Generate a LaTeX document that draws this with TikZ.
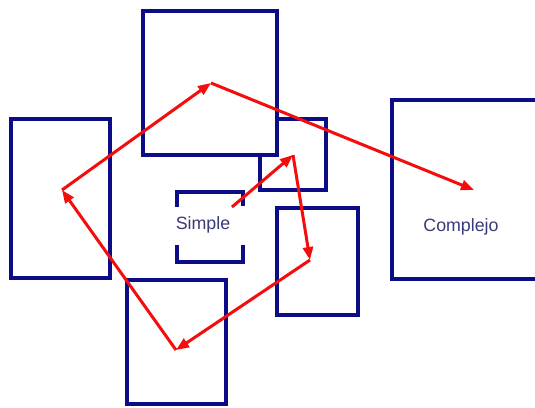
\documentclass[tikz,border=0pt]{standalone}
\usepackage{fontspec}
\setmainfont{Liberation Sans}
\usetikzlibrary{arrows.meta}
\definecolor{boxblue}{RGB}{12,12,135}
\definecolor{arrred}{RGB}{245,12,12}
\definecolor{txtblue}{RGB}{58,58,118}
\begin{document}
\begin{tikzpicture}[x=1pt,y=-1pt,
  box/.style={draw=boxblue, line width=4pt, fill=white, outer sep=0pt, inner sep=0pt},
  bracket/.style={draw=boxblue, line width=4pt},
  arr/.style={draw=arrred, line width=3pt, -{Triangle[length=13pt,width=10pt]}},
  lbl/.style={text=txtblue, font=\fontsize{17.8}{20}\selectfont, inner sep=0pt}]
\useasboundingbox (0,0) rectangle (535,407);
\fill[white] (0,0) rectangle (535,407);
\begin{scope}
\clip (0,0) rectangle (535,407);
% boxes
\node[box, minimum width=66pt, minimum height=71pt] (small) at (293,154.5) {};
\node[box, minimum width=134pt, minimum height=144pt] (top) at (210,83) {};
\node[box, minimum width=99pt, minimum height=159pt] (left) at (60.5,198.5) {};
\node[box, minimum width=81pt, minimum height=107pt] (rmid) at (317.5,261.5) {};
\node[box, minimum width=99pt, minimum height=124pt] (bottom) at (176.5,342) {};
\node[box, minimum width=164pt, minimum height=179pt] (cplx) at (474,189.5) {};
% simple bracket box
\draw[bracket] (177,207) -- (177,192) -- (243,192) -- (243,206);
\draw[bracket] (177,245) -- (177,262) -- (243,262) -- (243,245);
\end{scope}
% labels
\node[lbl] (simple) at (203,225) {Simple};
\node[lbl] (complejo) at (461,227) {Complejo};
% arrow vertices
\coordinate (v0) at (232,207);
\coordinate (v1) at (293,155);
\coordinate (v2) at (310,260);
\coordinate (v3) at (176,350);
\coordinate (v4) at (62,190);
\coordinate (v5) at (211,83);
\coordinate (v6) at (474,190);
\draw[arr] (v0) -- (v1);
\draw[arr] (v1) -- (v2);
\draw[arr] (v2) -- (v3);
\draw[arr] (v3) -- (v4);
\draw[arr] (v4) -- (v5);
\draw[arr] (v5) -- (v6);
\end{tikzpicture}
\end{document}
